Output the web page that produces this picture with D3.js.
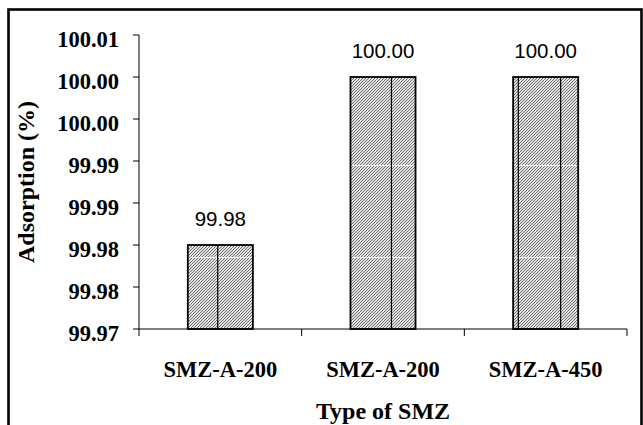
<!DOCTYPE html>
<html>
<head>
<meta charset="utf-8">
<script src="https://cdn.jsdelivr.net/npm/d3@7"></script>
<style>
  body { margin: 0; background: #fff; }
  svg { display: block; }
</style>
</head>
<body>
<div id="chart"></div>
<script>
// Data
const categories = ["SMZ-A-200", "SMZ-A-200", "SMZ-A-450"];
const adsorption = [99.98, 100.00, 100.00];
const valueLabels = ["99.98", "100.00", "100.00"];
const yTickValues = [99.970, 99.975, 99.980, 99.985, 99.990, 99.995, 100.000, 100.005];
const yTickLabels = ["99.97", "99.98", "99.98", "99.99", "99.99", "100.00", "100.00", "100.01"];

const W = 643, H = 425;
const margin = { top: 35, right: 16, bottom: 96, left: 139 };
const width = W - margin.left - margin.right,
      height = H - margin.top - margin.bottom;

const serif = '"Liberation Serif", "Times New Roman"';
const sans = '"Liberation Sans", Arial';

const svg = d3.select("#chart").append("svg")
    .attr("width", W)
    .attr("height", H);

// hatch fill for the bars
const defs = svg.append("defs");
const hatch = defs.append("pattern")
    .attr("id", "hatch")
    .attr("patternUnits", "userSpaceOnUse")
    .attr("width", 3)
    .attr("height", 3);
hatch.append("rect").attr("width", 3).attr("height", 3).attr("fill", "#e2e2e2");
hatch.append("path")
    .attr("d", "M-1,1 l2,-2 M0,3 l3,-3 M2,4 l2,-2")
    .attr("stroke", "#707070")
    .attr("stroke-width", 1);

// faint white stripes that run across the bars in the original
const stripes = defs.append("pattern")
    .attr("id", "stripes")
    .attr("patternUnits", "userSpaceOnUse")
    .attr("width", 10)
    .attr("height", 92);
stripes.append("rect")
    .attr("y", 38).attr("width", 10).attr("height", 1)
    .attr("fill", "#fff").attr("opacity", 0.85);

// outer frame (bottom edge is cut off in the picture)
svg.append("rect")
    .attr("x", 8.5)
    .attr("y", 9.5)
    .attr("width", 633)
    .attr("height", 460)
    .attr("fill", "none")
    .attr("stroke", "#000")
    .attr("stroke-width", 2.6);

const g = svg.append("g")
    .attr("transform", `translate(${margin.left},${margin.top})`);

const x = d3.scaleBand()
    .domain(d3.range(categories.length))
    .range([0, width])
    .paddingInner(0.6)
    .paddingOuter(0.3);

const y = d3.scaleLinear()
    .domain([99.970, 100.005])
    .range([height, 0]);

// Y axis
g.append("line")
    .attr("x1", 0).attr("x2", 0)
    .attr("y1", 0).attr("y2", height)
    .attr("stroke", "#000");
g.selectAll(".ytick")
    .data(yTickValues)
    .enter().append("line")
    .attr("x1", -6).attr("x2", 0)
    .attr("y1", d => y(d)).attr("y2", d => y(d))
    .attr("stroke", "#000");
g.selectAll(".ylab")
    .data(yTickValues)
    .enter().append("text")
    .attr("x", -20)
    .attr("y", d => y(d) + 11.5)
    .attr("text-anchor", "end")
    .style("font-family", serif)
    .style("font-weight", "bold")
    .style("font-size", "22.5px")
    .text((d, i) => yTickLabels[i]);

// bars
const bars = g.selectAll(".bar")
    .data(adsorption)
    .enter().append("g");

bars.append("rect")
    .attr("x", (d, i) => x(i))
    .attr("y", d => y(d))
    .attr("width", x.bandwidth())
    .attr("height", d => height - y(d))
    .attr("fill", "url(#hatch)");
bars.append("rect")
    .attr("x", (d, i) => x(i) + 2)
    .attr("y", d => y(d))
    .attr("width", x.bandwidth() - 4)
    .attr("height", d => height - y(d))
    .attr("fill", "url(#stripes)");

// thin vertical lines seen inside the bars
const innerLines = [[0.46], [0.63], [0.08, 0.73]];
bars.each(function(d, i) {
    d3.select(this).selectAll("line")
        .data(innerLines[i])
        .enter().append("line")
        .attr("x1", f => x(i) + f * x.bandwidth())
        .attr("x2", f => x(i) + f * x.bandwidth())
        .attr("y1", y(d)).attr("y2", height)
        .attr("stroke", "#000")
        .attr("stroke-width", 1.2);
});

bars.append("rect")
    .attr("x", (d, i) => x(i))
    .attr("y", d => y(d))
    .attr("width", x.bandwidth())
    .attr("height", d => height - y(d))
    .attr("fill", "none")
    .attr("stroke", "#000")
    .attr("stroke-width", 1.8);

// value labels
bars.append("text")
    .attr("x", (d, i) => x(i) + x.bandwidth() / 2)
    .attr("y", d => y(d) - 19.5)
    .attr("text-anchor", "middle")
    .style("font-family", sans)
    .style("font-size", "20.5px")
    .text((d, i) => valueLabels[i]);

// X axis (ticks between categories)
g.append("line")
    .attr("x1", 0).attr("x2", width)
    .attr("y1", height).attr("y2", height)
    .attr("stroke", "#000");
g.selectAll(".xtick")
    .data(d3.range(categories.length + 1))
    .enter().append("line")
    .attr("x1", i => i * x.step())
    .attr("x2", i => i * x.step())
    .attr("y1", height).attr("y2", height + 7)
    .attr("stroke", "#000");
g.selectAll(".xlab")
    .data(categories)
    .enter().append("text")
    .attr("x", (d, i) => x(i) + x.bandwidth() / 2)
    .attr("y", height + 48)
    .attr("text-anchor", "middle")
    .style("font-family", serif)
    .style("font-weight", "bold")
    .style("font-size", "22.5px")
    .text(d => d);

// axis titles
g.append("text")
    .attr("x", width / 2)
    .attr("y", height + 90)
    .attr("text-anchor", "middle")
    .style("font-family", serif)
    .style("font-weight", "bold")
    .style("font-size", "24px")
    .text("Type of SMZ");

g.append("text")
    .attr("transform", "rotate(-90)")
    .attr("x", -height / 2)
    .attr("y", -105)
    .attr("text-anchor", "middle")
    .style("font-family", serif)
    .style("font-weight", "bold")
    .style("font-size", "24px")
    .text("Adsorption (%)");
</script>
</body>
</html>
